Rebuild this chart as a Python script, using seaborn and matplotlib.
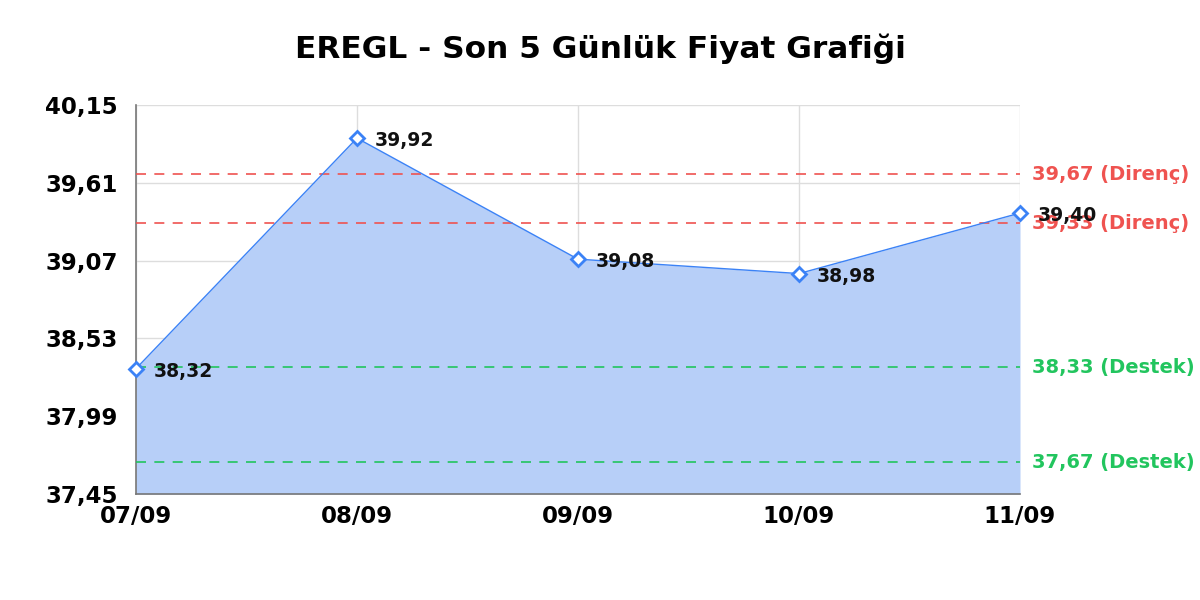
import pandas as pd
import seaborn as sns
from matplotlib import pyplot as plt

dates = ['07/09', '08/09', '09/09', '10/09', '11/09']
prices = [38.32, 39.92, 39.08, 38.98, 39.40]
resistance = [39.67, 39.33]
support = [38.33, 37.67]
y_ticks = [37.45, 37.99, 38.53, 39.07, 39.61, 40.15]

LINE = '#3b82f6'
FILL = '#b7cff8'
RED = '#ef5350'
GREEN = '#22c55e'


def fmt(v):
    return f'{v:.2f}'.replace('.', ',')


df = pd.DataFrame({'Tarih': dates, 'Fiyat': prices})
df['x'] = range(len(df))

sns.set_style('white')
plt.rcParams['font.family'] = ['DejaVu Sans']
plt.rcParams['font.sans-serif'] = ['DejaVu Sans']
plt.rcParams['text.color'] = 'black'
plt.rcParams['xtick.color'] = 'black'
plt.rcParams['ytick.color'] = 'black'

fig = plt.figure(figsize=(12, 6), dpi=100)
ax = fig.add_axes([0.1133, 0.1767, 0.7367, 0.6483])

ax.fill_between(df['x'], y_ticks[0], df['Fiyat'], color=FILL, zorder=1, linewidth=0)
sns.lineplot(data=df, x='x', y='Fiyat', ax=ax, color=LINE, linewidth=1.0,
             marker='D', markersize=7, markerfacecolor='white',
             markeredgecolor=LINE, markeredgewidth=2, zorder=4, clip_on=False)

for lvl in resistance:
    ax.axhline(lvl, color=RED, linestyle=(0, (6, 5)), linewidth=1.2, zorder=3)
    ax.text(1.014, lvl, f'{fmt(lvl)} (Direnç)', transform=ax.get_yaxis_transform(),
            color=RED, fontsize=14, fontweight='bold', va='center', ha='left',
            family='DejaVu Sans')
for lvl in support:
    ax.axhline(lvl, color=GREEN, linestyle=(0, (6, 5)), linewidth=1.2, zorder=3)
    ax.text(1.014, lvl, f'{fmt(lvl)} (Destek)', transform=ax.get_yaxis_transform(),
            color=GREEN, fontsize=14, fontweight='bold', va='center', ha='left',
            family='DejaVu Sans')

for xi, p in zip(df['x'], df['Fiyat']):
    ax.annotate(fmt(p), (xi, p), xytext=(13, -2), textcoords='offset points',
                fontsize=13.5, fontweight='bold', color='#111111', va='center', ha='left',
                zorder=6, family='DejaVu Sans')

ax.set_xlim(0, len(dates) - 1)
ax.set_ylim(y_ticks[0], y_ticks[-1])
ax.set_xticks(df['x'])
ax.set_xticklabels(dates)
ax.set_yticks(y_ticks)
ax.set_yticklabels([fmt(v) for v in y_ticks])
ax.tick_params(axis='y', length=0, labelsize=16.5, pad=13)
ax.tick_params(axis='x', length=0, labelsize=16.5, pad=8)
for lab in ax.get_xticklabels() + ax.get_yticklabels():
    lab.set_fontweight('bold')
    lab.set_family('DejaVu Sans')
ax.set_xlabel('')
ax.set_ylabel('')
ax.grid(True, color='#dddddd', linewidth=1, zorder=0)
ax.set_axisbelow(True)

sns.despine(ax=ax, top=True, right=True)
for side in ['left', 'bottom']:
    ax.spines[side].set_color('#777777')
    ax.spines[side].set_linewidth(1.2)

fig.suptitle('EREGL - Son 5 Günlük Fiyat Grafiği', fontsize=22.5, fontweight='bold',
             y=0.945, family='DejaVu Sans')

fig.savefig('out.png', dpi=100)
